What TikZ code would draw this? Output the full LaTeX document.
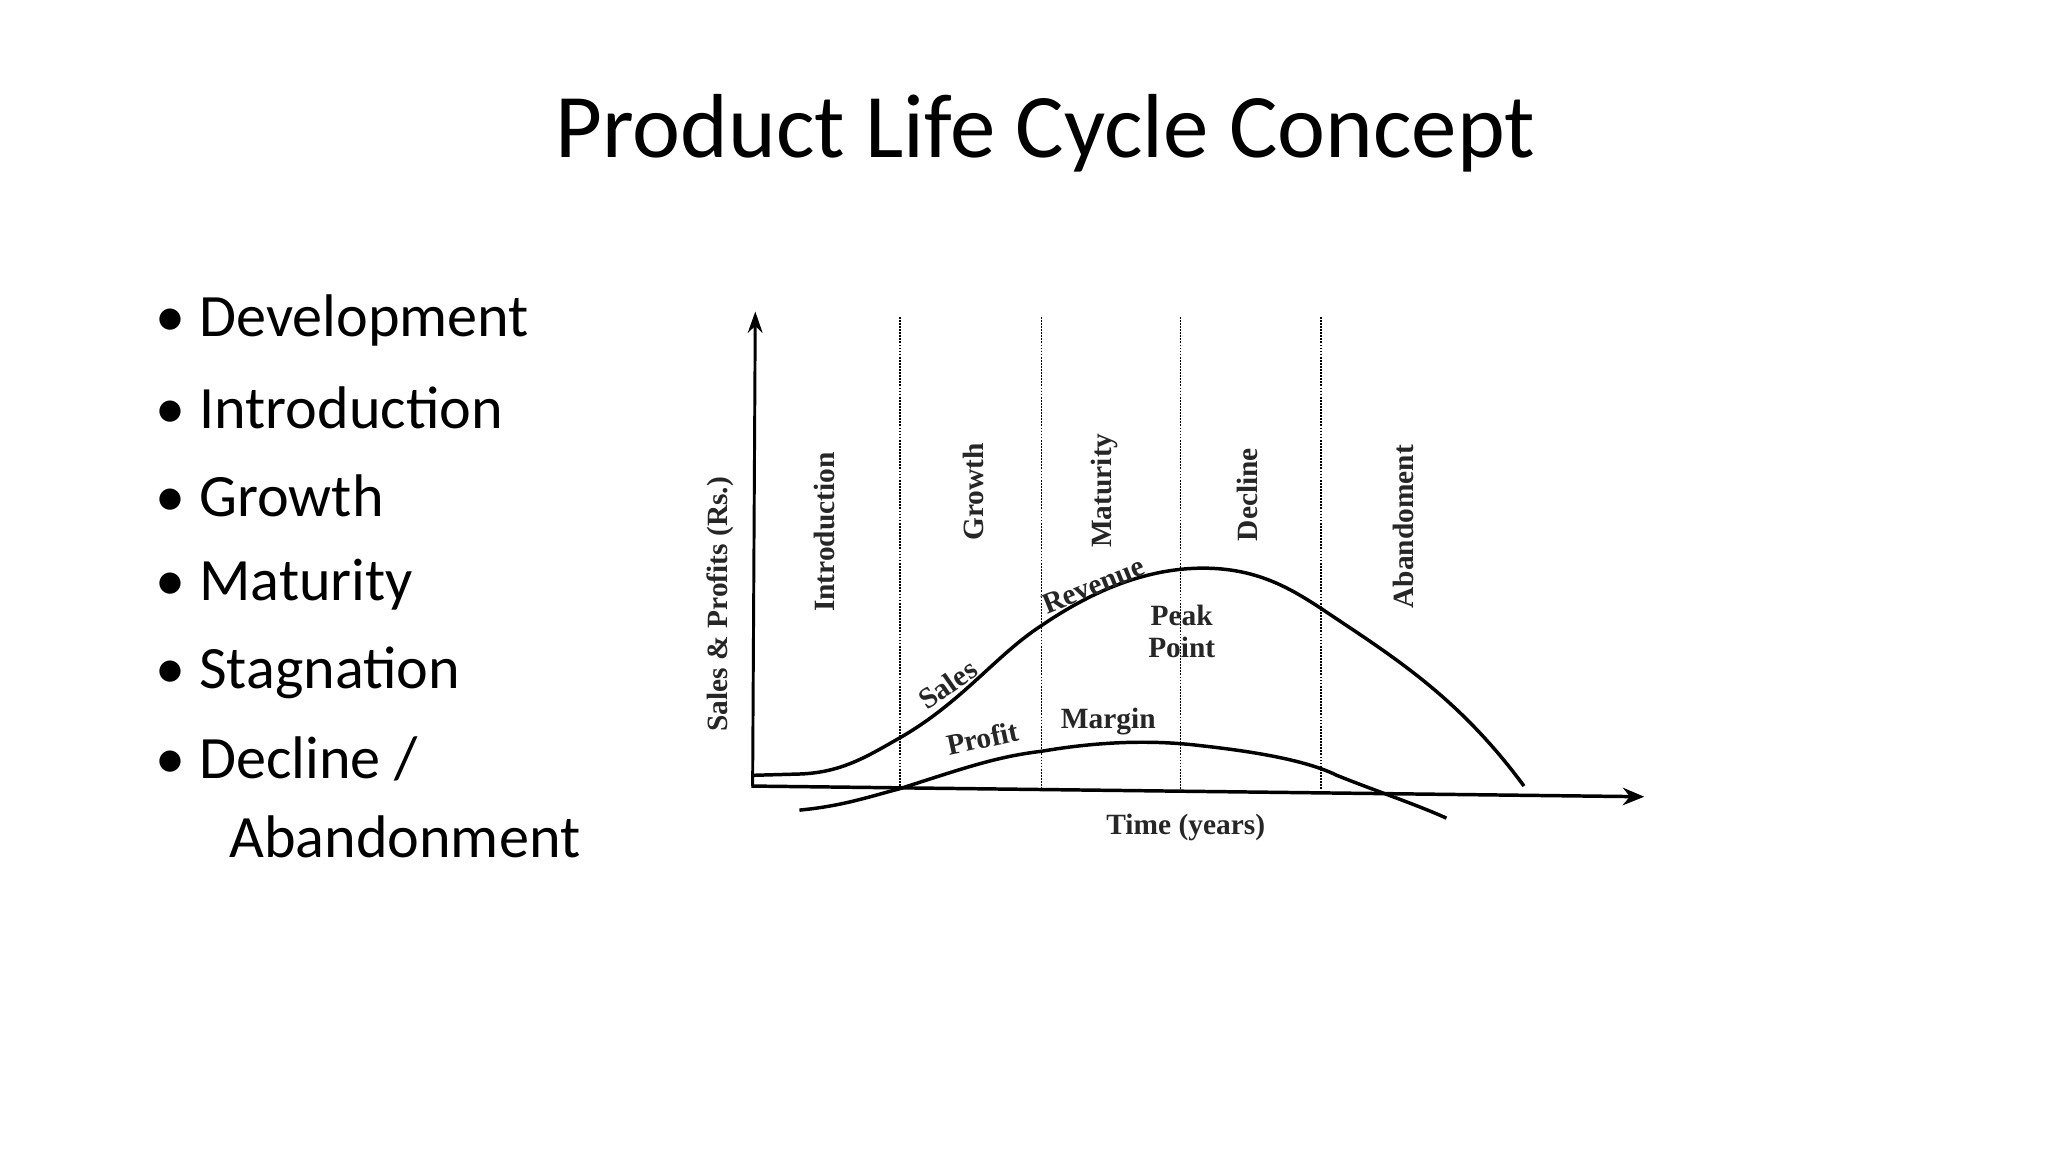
\documentclass[tikz,border=0pt]{standalone}
\usepackage{fontspec}
\setmainfont{Carlito}
\newfontfamily\gfont{Liberation Serif}
\usetikzlibrary{arrows.meta}
\begin{document}
\begin{tikzpicture}[x=1pt,y=-1pt,
  title/.style={font=\fontsize{68}{80}\selectfont},
  bul/.style={anchor=west,font=\fontsize{45}{50}\selectfont},
  glab/.style={font=\gfont\bfseries\fontsize{22}{24}\selectfont,text=black!85},
  curve/.style={line width=2.6pt},
  divider/.style={densely dotted,line width=1.3pt}]
\useasboundingbox (0,0) rectangle (1532,862);
\node[title] (t) at (782,100) {Product Life Cycle Concept};
\foreach \y/\s [count=\i] in {240/Development,305/Introduction,371/Growth,437/Maturity,503/Stagnation,568/{Decline /}}{
  \node[bul] (b\i) at (113,\y) {\textbullet\ \s};}
\node[bul] (b7) at (168,626) {Abandonment};
% axes
\coordinate (yt) at (565,233);
\coordinate (xe) at (1230,596);
\draw[line width=2.2pt,-{Stealth[length=16pt,width=11pt]}] (563,588) -- (yt);
\draw[line width=2.6pt,-{Stealth[length=16pt,width=13pt]}] (562,588) -- (xe);
\foreach \x/\n in {673/a,779/b,883/c,988/d}{
  \coordinate (\n1) at (\x,237); \coordinate (\n2) at (\x,590);
  \draw[divider] (\n1) -- (\n2);}
% sales
\draw[curve] (562,580) -- (598,579) .. controls (630,578) and (650,565) .. (673,552)
  .. controls (720,525) and (745,490) .. (779,468)
  .. controls (820,440) and (860,425) .. (900,425)
  .. controls (940,425) and (965,440) .. (988,455)
  .. controls (1040,490) and (1090,520) .. (1140,588);
% profit
\draw[curve] (598,606) .. controls (630,603) and (650,596) .. (673,590)
  .. controls (720,575) and (745,566) .. (779,562)
  .. controls (820,555) and (860,553) .. (900,558)
  .. controls (945,563) and (980,570) .. (1000,580)
  .. controls (1030,592) and (1060,602) .. (1082,612);
% labels
\foreach \x/\y/\s in {617/398/Introduction,728/368/Growth,826/367/Maturity,933/370/Decline,1050/394/Abandoment}
  \node[glab,rotate=90] (l\s) at (\x,\y) {\s};
\node[glab,rotate=90] (ya) at (539,452) {Sales \& Profits (Rs.)};
\node[glab,rotate=35,inner sep=1pt] (ls) at (709,512) {Sales};
\node[glab,rotate=22,inner sep=1pt] (lr) at (818,438) {Revenue};
\node[glab,align=center] (lp) at (884,472) {Peak\\Point};
\node[glab,rotate=12,inner sep=1pt] (lpr) at (735,552) {Profit};
\node[glab] (lm) at (829,540) {Margin};
\node[glab] (lt) at (887,619) {Time (years)};
\end{tikzpicture}
\end{document}
